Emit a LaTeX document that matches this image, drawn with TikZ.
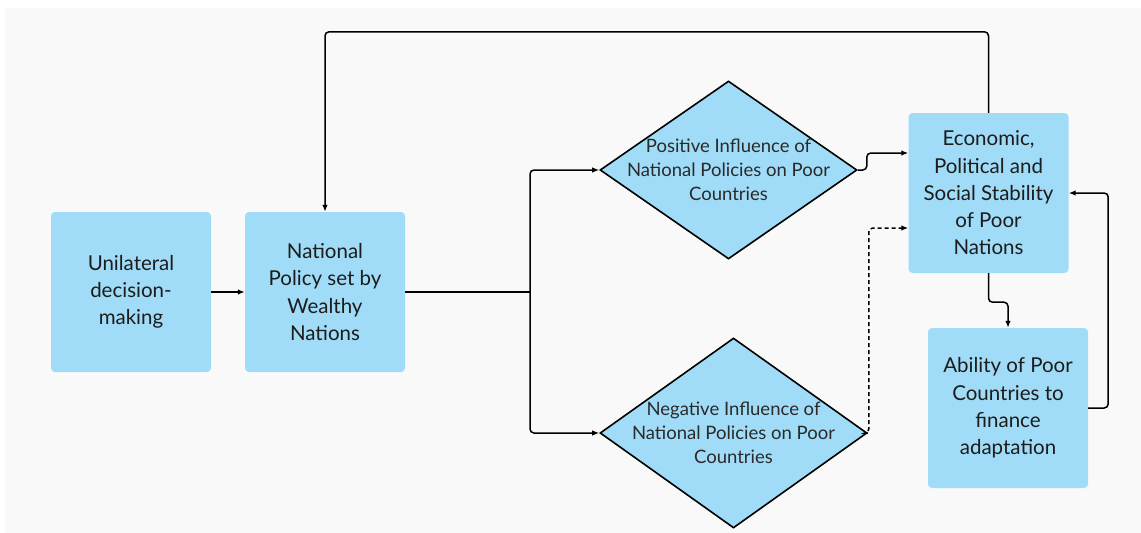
\documentclass[tikz,border=0pt]{standalone}
\usepackage{fontspec}
\setmainfont{Lato}
\usetikzlibrary{shapes.geometric,arrows.meta,calc}
\definecolor{canvas}{HTML}{F9F9F9}
\definecolor{boxblue}{HTML}{A0DCF7}
\definecolor{boxtext}{HTML}{1C1C1C}
\definecolor{dtext}{HTML}{2A2A2A}
\tikzset{
  stepbox/.style={rectangle, rounded corners=4pt, fill=boxblue, draw=none,
    minimum width=160pt, minimum height=160pt, inner sep=0pt,
    align=center, text=boxtext,
    font=\fontsize{20.5pt}{27.3pt}\selectfont},
  decision/.style={diamond, fill=boxblue, draw=black, line width=1.6pt,
    inner sep=0pt},
  dlabel/.style={align=center, text=dtext, inner sep=0pt,
    font=\fontsize{18.5pt}{24pt}\selectfont},
  link/.style={line width=1.5pt, rounded corners=4pt,
    -{Latex[length=7pt,width=5.5pt]}},
}
\begin{document}
\begin{tikzpicture}[x=1pt,y=-1pt]
  % page and canvas
  \fill[white] (0,0) rectangle (1141,533);
  \fill[canvas] (5,8) rectangle (1141,533);
  \useasboundingbox (0,0) rectangle (1141,533);

  % process boxes
  \node[stepbox] (A) at (131,292) {Unilateral\\decision-\\making};
  \node[stepbox] (B) at (325,292) {National\\Policy set by\\Wealthy\\Nations};
  \node[stepbox] (E) at (988.5,193) {Economic,\\Political and\\Social Stability\\of Poor\\Nations};
  \node[stepbox] (F) at (1008,408) {Ability of Poor\\Countries to\\finance\\adaptation};

  % decision diamonds
  \node[decision, minimum width=257pt, minimum height=178pt] (P) at (728.5,170) {};
  \node[dlabel] (Pt) at (P.center) {Positive Influence of\\National Policies on Poor\\Countries};
  \node[decision, minimum width=267pt, minimum height=190pt] (N) at (733.5,433) {};
  \node[dlabel] (Nt) at (N.center) {Negative Influence of\\National Policies on Poor\\Countries};

  % junction points
  \coordinate (split) at (530,292);
  \coordinate (Ein1) at ($(E.west)+(0,-40)$);
  \coordinate (Ein2) at ($(E.west)+(0,35)$);

  % connectors
  \draw[link] (A.east) -- (B.west);
  \draw[line width=1.5pt] (B.east) -- (split);
  \draw[link] (split) |- (P.west);
  \draw[link] (split) |- (N.west);
  \draw[link] (E.north) -- ++(0,-81) -| (B.north);
  \draw[link] (P.east) -- ++(9,0) |- (Ein1);
  \draw[link, dashed, dash pattern=on 4pt off 3pt] (N.east) -- ++(1,0) |- (Ein2);
  \draw[link] (E.south) -- ++(0,29) -| (F.north);
  \draw[link] (F.east) -- ++(20,0) |- (E.east);
\end{tikzpicture}
\end{document}
